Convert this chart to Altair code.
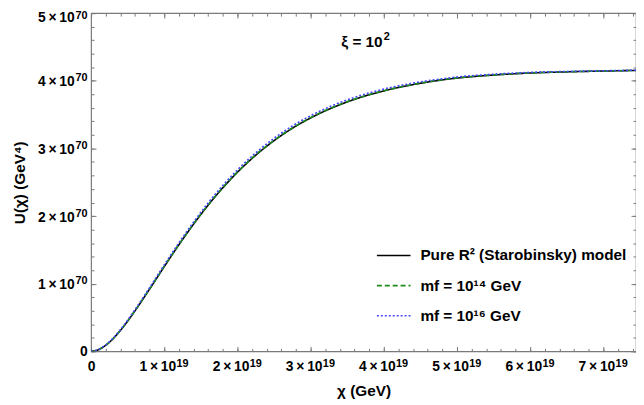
import altair as alt
import pandas as pd

# chi in units of 1e19 GeV, U in units of 1e70 GeV^4
chi = [0, 0.1, 0.2, 0.3, 0.4, 0.5, 0.6, 0.8, 1.0, 1.2, 1.4, 1.6, 1.8, 2.0,
       2.25, 2.5, 2.75, 3.0, 3.5, 4.0, 4.5, 5.0, 5.5, 6.0, 6.5, 7.0, 7.5]
U_star = [0, 0.024, 0.090, 0.187, 0.308, 0.447, 0.599, 0.921, 1.253, 1.576,
          1.880, 2.162, 2.418, 2.648, 2.900, 3.115, 3.298, 3.451, 3.688,
          3.851, 3.963, 4.040, 4.085, 4.115, 4.132, 4.144, 4.154]
U_mf14 = [0, 0.024, 0.091, 0.188, 0.310, 0.449, 0.602, 0.925, 1.257, 1.580,
          1.885, 2.167, 2.423, 2.653, 2.905, 3.120, 3.302, 3.455, 3.691,
          3.853, 3.965, 4.042, 4.087, 4.116, 4.133, 4.145, 4.155]
U_mf16 = [0, 0.026, 0.095, 0.195, 0.320, 0.462, 0.617, 0.943, 1.279, 1.605,
          1.911, 2.195, 2.452, 2.683, 2.935, 3.150, 3.332, 3.484, 3.718,
          3.877, 3.984, 4.056, 4.097, 4.124, 4.138, 4.148, 4.157]

series_names = ["Pure R² (Starobinsky) model", "mf = 10¹⁴ GeV", "mf = 10¹⁶ GeV"]
series_colors = ["#000000", "#1a8a1a", "#4646ff"]
series_dashes = [[1, 0], [5, 3], [2, 2]]

TS = "\u2009"  # thin space
x_major = [1, 2, 3, 4, 5, 6, 7]
x_mant = [f"{k}{TS}×{TS}10" for k in ["1", "2", "3", "4", "5", "6", "7"]]
x_exp = ["19"] * 7
y_major = [1, 2, 3, 4, 5]
y_mant = [f"{k}{TS}×{TS}10" for k in ["1", "2", "3", "4", "5"]]
y_exp = ["70"] * 5
zero_label = "0"
x_minor = [round(i * 0.2, 1) for i in range(38)]
y_minor = [round(i * 0.2, 1) for i in range(26)]
x_ticks = [0, 1, 2, 3, 4, 5, 6, 7]
y_ticks = [0, 1, 2, 3, 4, 5]

annot_main = ["ξ = 10"]
annot_sup = ["2"]
annot_chi = [3.984]
annot_U = [4.576]

XS, YS = 1e19, 1e70
rows = []
for name, vals in zip(series_names, [U_star, U_mf14, U_mf16]):
    for c, u in zip(chi, vals):
        rows.append({"chi": c * XS, "U": u * YS, "series": name})
df = pd.DataFrame(rows)
annot = pd.DataFrame({"chi": [c * XS for c in annot_chi],
                      "U": [u * YS for u in annot_U],
                      "main": annot_main, "sup": annot_sup})

FONT = "Liberation Sans"
FRAME = "#7a7a7a"
xs = alt.Scale(domain=[0, 7.446e19], nice=False, zero=False)
ys = alt.Scale(domain=[0, 5e70], nice=False, zero=False)


def arr(lst):
    return "[" + ",".join("'" + s + "'" for s in lst) + "]"


common = dict(ticks=False, domain=False, grid=False, labelFlush=False,
              labelOverlap=False, labelFont=FONT, labelFontWeight="bold",
              labelColor="#000")

base = alt.Chart(df)

legend = alt.Legend(orient="none", legendX=288, legendY=227, title=None,
                    symbolType="stroke", symbolSize=1156, symbolStrokeWidth=1.6,
                    labelFont=FONT, labelFontSize=15.5, labelFontWeight="bold",
                    labelColor="#000", labelOffset=9, rowPadding=3.5, labelLimit=400)

lines = base.mark_line(strokeWidth=1.6, clip=True, interpolate="monotone").encode(
    x=alt.X("chi:Q", scale=xs, axis=alt.Axis(
        orient="bottom", values=[v * XS for v in x_major],
        labelExpr=arr(x_mant) + "[round(datum.value/1e19)-1]",
        labelPadding=8, labelOffset=-7, labelFontSize=14,
        title="χ (GeV)", titleFont=FONT, titleFontSize=15.5, titleFontWeight="bold",
        titleColor="#000", titlePadding=11, **common)),
    y=alt.Y("U:Q", scale=ys, axis=alt.Axis(
        orient="left", values=[v * YS for v in y_major[:-1]],
        labelExpr=arr(y_mant) + "[round(datum.value/1e70)-1]",
        labelPadding=17, labelOffset=1, labelFontSize=14,
        title="U(χ) (GeV⁴)", titleFont=FONT, titleFontSize=15.5, titleFontWeight="bold",
        titleColor="#000", titlePadding=10, **common)),
    color=alt.Color("series:N", scale=alt.Scale(domain=series_names, range=series_colors),
                    legend=legend),
    strokeDash=alt.StrokeDash("series:N", scale=alt.Scale(domain=series_names, range=series_dashes),
                              legend=legend),
)

exps = base.mark_point(opacity=0).encode(
    x=alt.X("chi:Q", scale=xs, axis=alt.Axis(
        orient="bottom", values=[v * XS for v in x_major],
        labelExpr=arr(x_exp) + "[round(datum.value/1e19)-1]",
        labelPadding=6, labelOffset=18, labelFontSize=11, title=None, **common)),
    y=alt.Y("U:Q", scale=ys, axis=alt.Axis(
        orient="left", values=[v * YS for v in y_major[:-1]],
        labelExpr=arr(y_exp) + "[round(datum.value/1e70)-1]",
        labelPadding=4, labelOffset=-3, labelFontSize=11, title=None, **common)),
)

zeros = base.mark_point(opacity=0).encode(
    x=alt.X("chi:Q", scale=xs, axis=alt.Axis(
        orient="bottom", values=[0], labelExpr="'" + zero_label + "'",
        labelPadding=8, labelFontSize=14, title=None, **common)),
    y=alt.Y("U:Q", scale=ys, axis=alt.Axis(
        orient="left", values=[0], labelExpr="'" + zero_label + "'",
        labelPadding=4, labelFontSize=14, title=None, **common)),
)

# top y label (mantissa + exponent), nudged down so it stays inside the page
top_mant = base.mark_point(opacity=0).encode(
    x=alt.X("chi:Q", scale=xs, axis=None),
    y=alt.Y("U:Q", scale=ys, axis=alt.Axis(
        orient="left", values=[y_major[-1] * YS],
        labelExpr="'" + y_mant[-1] + "'",
        labelPadding=17, labelOffset=4, labelFontSize=14, title=None, **common)),
)
top_exp = base.mark_point(opacity=0).encode(
    x=alt.X("chi:Q", scale=xs, axis=None),
    y=alt.Y("U:Q", scale=ys, axis=alt.Axis(
        orient="left", values=[y_major[-1] * YS],
        labelExpr="'" + y_exp[-1] + "'",
        labelPadding=4, labelOffset=2.5, labelFontSize=11, title=None, **common)),
)


def tick_layer(xorient, yorient, xvals, yvals, size):
    return base.mark_point(opacity=0).encode(
        x=alt.X("chi:Q", scale=xs, axis=alt.Axis(
            orient=xorient, values=[v * XS for v in xvals], labels=False, domain=False,
            grid=False, ticks=True, tickSize=size, offset=-size, tickColor=FRAME,
            tickWidth=1, title=None)),
        y=alt.Y("U:Q", scale=ys, axis=alt.Axis(
            orient=yorient, values=[v * YS for v in yvals], labels=False, domain=False,
            grid=False, ticks=True, tickSize=size, offset=-size, tickColor=FRAME,
            tickWidth=1, title=None)),
    )


tA = tick_layer("bottom", "left", x_ticks, y_ticks, 5)
tB = tick_layer("bottom", "left", x_minor, y_minor, 3)
tC = tick_layer("top", "right", x_ticks, y_ticks, 5)
tD = tick_layer("top", "right", x_minor, y_minor, 3)

abase = alt.Chart(annot).encode(
    x=alt.X("chi:Q", scale=xs, axis=None), y=alt.Y("U:Q", scale=ys, axis=None))
t_main = abase.mark_text(font=FONT, fontSize=15.5, fontWeight="bold", color="#000",
                         align="right", baseline="middle").encode(text="main:N")
t_sup = abase.mark_text(font=FONT, fontSize=11, fontWeight="bold", color="#000",
                        align="left", baseline="middle", dx=1, dy=-5).encode(text="sup:N")

chart = alt.layer(lines, exps, zeros, top_mant, top_exp, tA, tB, tC, tD,
                  t_main, t_sup).resolve_axis(
    x="independent", y="independent"
).properties(
    width=551, height=342,
    autosize=alt.AutoSizeParams(type="none"),
    padding={"left": 84, "top": 3, "right": 0, "bottom": 50},
).configure_view(stroke=FRAME, strokeWidth=1.2)

chart.save("out.html", embed_options={"renderer": "svg", "actions": False})
